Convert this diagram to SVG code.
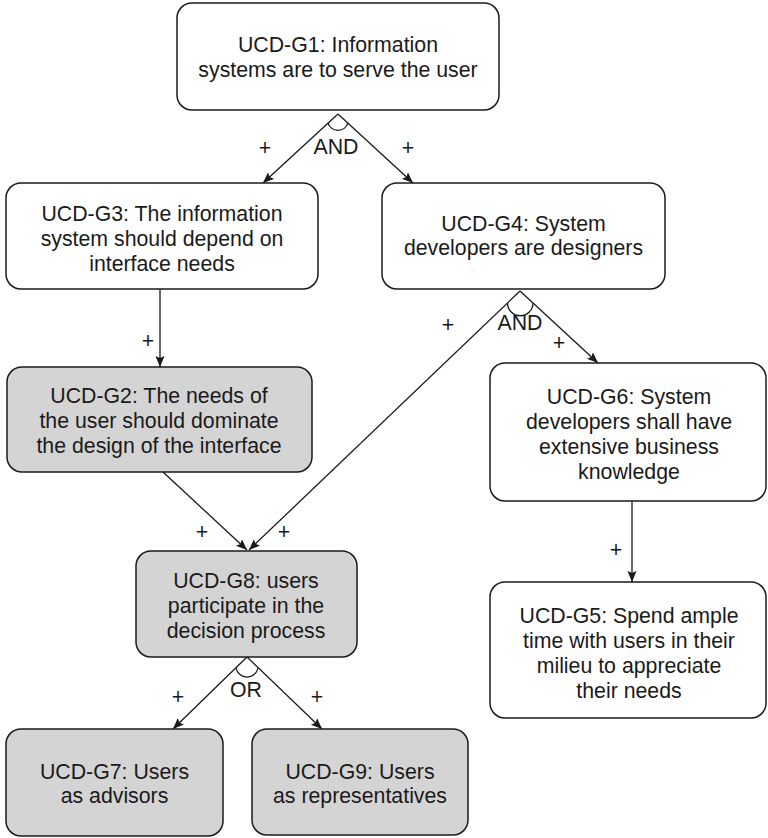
<svg xmlns="http://www.w3.org/2000/svg" width="768" height="838" viewBox="0 0 768 838">
  <defs>
    <marker id="arrow" markerUnits="userSpaceOnUse" markerWidth="12" markerHeight="10" refX="11" refY="4.5" orient="auto">
      <path d="M0,0 L11,4.5 L0,9 L2,4.5 z" fill="#1a1a1a"/>
    </marker>
    <style>
      .box { fill: #ffffff; stroke: #1a1a1a; stroke-width: 1.5; }
      .box.grey { fill: #d4d4d4; }
      text { font-family: "Liberation Sans", Arial, Helvetica, sans-serif; font-size: 21.3px; fill: #1a1a1a; text-anchor: middle; }
      .edge { fill: none; stroke: #1a1a1a; stroke-width: 1.3; }
      .edge.arrow { marker-end: url(#arrow); }
    </style>
  </defs>

  <rect width="768" height="838" fill="#ffffff"/>

  <!-- connectors, decomposition arcs and their labels -->
  <g id="connectors">
    <!-- G1 AND-decomposition -->
    <line class="edge arrow" x1="338" y1="114" x2="263" y2="183"/>
    <line class="edge arrow" x1="338" y1="114" x2="413" y2="183"/>
    <path class="edge" d="M328,123 A10.5,10.5 0 0 0 348,123"/>
    <text x="336" y="154">AND</text>
    <text x="265" y="155">+</text>
    <text x="408" y="155">+</text>

    <!-- G3 to G2 -->
    <line class="edge arrow" x1="160" y1="289" x2="160" y2="367"/>
    <text x="148" y="348">+</text>

    <!-- G4 AND-decomposition -->
    <line class="edge arrow" x1="520" y1="291" x2="249" y2="550"/>
    <line class="edge arrow" x1="520" y1="291" x2="598" y2="363"/>
    <path class="edge" d="M507.5,303 A12.7,12.7 0 0 0 533,303"/>
    <text x="520" y="330">AND</text>
    <text x="448" y="332">+</text>
    <text x="559" y="350">+</text>

    <!-- G2 to G8 -->
    <line class="edge arrow" x1="163" y1="472" x2="247" y2="550"/>
    <text x="202" y="539">+</text>
    <text x="284" y="539">+</text>

    <!-- G6 to G5 -->
    <line class="edge arrow" x1="632" y1="501" x2="632" y2="582"/>
    <text x="616" y="557">+</text>

    <!-- G8 OR-decomposition -->
    <line class="edge arrow" x1="247" y1="657" x2="173" y2="729"/>
    <line class="edge arrow" x1="247" y1="657" x2="322" y2="729"/>
    <path class="edge" d="M236,668 A11.2,11.2 0 0 0 258,668"/>
    <text x="246" y="697">OR</text>
    <text x="178" y="704">+</text>
    <text x="317" y="704">+</text>
  </g>

  <g id="G1">
    <rect class="box" x="177" y="3" width="322" height="107" rx="15"/>
    <text x="338" y="52">UCD-G1: Information</text>
    <text x="338" y="77">systems are to serve the user</text>
  </g>

  <g id="G3">
    <rect class="box" x="6" y="183" width="312" height="106" rx="15"/>
    <text x="162" y="221">UCD-G3: The information</text>
    <text x="162" y="246">system should depend on</text>
    <text x="162" y="271">interface needs</text>
  </g>

  <g id="G4">
    <rect class="box" x="382" y="183" width="283" height="106" rx="15"/>
    <text x="523.5" y="231">UCD-G4: System</text>
    <text x="523.5" y="255">developers are designers</text>
  </g>

  <g id="G2">
    <rect class="box grey" x="7" y="367" width="305" height="105" rx="15"/>
    <text x="159" y="403">UCD-G2: The needs of</text>
    <text x="159" y="428">the user should dominate</text>
    <text x="159" y="453">the design of the interface</text>
  </g>

  <g id="G6">
    <rect class="box" x="490" y="363" width="276" height="138" rx="15"/>
    <text x="629" y="404">UCD-G6: System</text>
    <text x="629" y="429">developers shall have</text>
    <text x="629" y="454">extensive business</text>
    <text x="629" y="479">knowledge</text>
  </g>

  <g id="G8">
    <rect class="box grey" x="136" y="551" width="221" height="106" rx="15"/>
    <text x="246" y="588">UCD-G8: users</text>
    <text x="246" y="613">participate in the</text>
    <text x="246" y="638">decision process</text>
  </g>

  <g id="G5">
    <rect class="box" x="490" y="582" width="276" height="136" rx="15"/>
    <text x="629" y="623">UCD-G5: Spend ample</text>
    <text x="629" y="648">time with users in their</text>
    <text x="629" y="673">milieu to appreciate</text>
    <text x="629" y="698">their needs</text>
  </g>

  <g id="G7">
    <rect class="box grey" x="6" y="729" width="217" height="107" rx="15"/>
    <text x="114.5" y="779">UCD-G7: Users</text>
    <text x="114.5" y="803">as advisors</text>
  </g>

  <g id="G9">
    <rect class="box grey" x="252" y="729" width="216" height="106" rx="15"/>
    <text x="360" y="779">UCD-G9: Users</text>
    <text x="360" y="803">as representatives</text>
  </g>
</svg>
